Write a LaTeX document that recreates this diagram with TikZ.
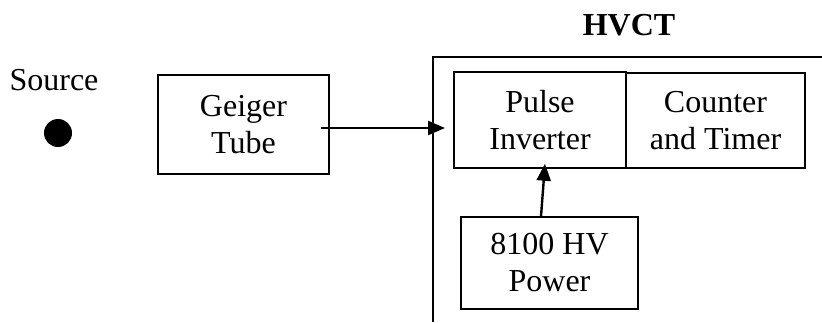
\documentclass[tikz,border=0pt]{standalone}
\usepackage{fontspec}
\setmainfont{Liberation Serif}
\usetikzlibrary{arrows.meta}

\begin{document}
\begin{tikzpicture}[x=0.5pt, y=-0.5pt, font=\fontsize{16}{18.5}\selectfont, blk/.style={rectangle, draw, line width=0.7pt, align=center, inner sep=0pt}, n/.style={-{Triangle[length=8.5pt, width=7pt]}, line width=1.2pt}]
            \useasboundingbox (0,0) rectangle (822,322);
            % nodes
            \node[anchor=base] (srclbl) at (54,90) {Source};
            \node[circle, fill, minimum size=14pt, inner sep=0pt] (src) at (58,133) {};
            \node[blk, minimum width=85.5pt, minimum height=49.5pt] (geiger) at (243.5,124.5) {Geiger\\Tube};
            \node[anchor=base, font=\fontsize{16}{18.5}\selectfont\bfseries] (hvct) at (629,35) {HVCT};
            \node[blk, minimum width=86pt, minimum height=48pt] (pulse) at (540,120) {Pulse\\Inverter};
            \node[blk, minimum width=89.5pt, minimum height=47.5pt] (counter) at (715.5,120.5) {Counter\\and Timer};
            \node[blk, minimum width=88.5pt, minimum height=46pt] (power) at (549.5,263) {8100 HV\\Power};
            \coordinate (hvin) at (445,128);
            % HVCT frame
            \draw[line width=0.7pt] (822,57) -- (433,57) -- (433,322);
            % edges
            \draw [n] (321,128) -- (hvin);
            \draw [n] ([xshift=-4.25pt]power.north) -- ([xshift=2.5pt, yshift=2.5pt]pulse.south);
        \end{tikzpicture}
\end{document}
